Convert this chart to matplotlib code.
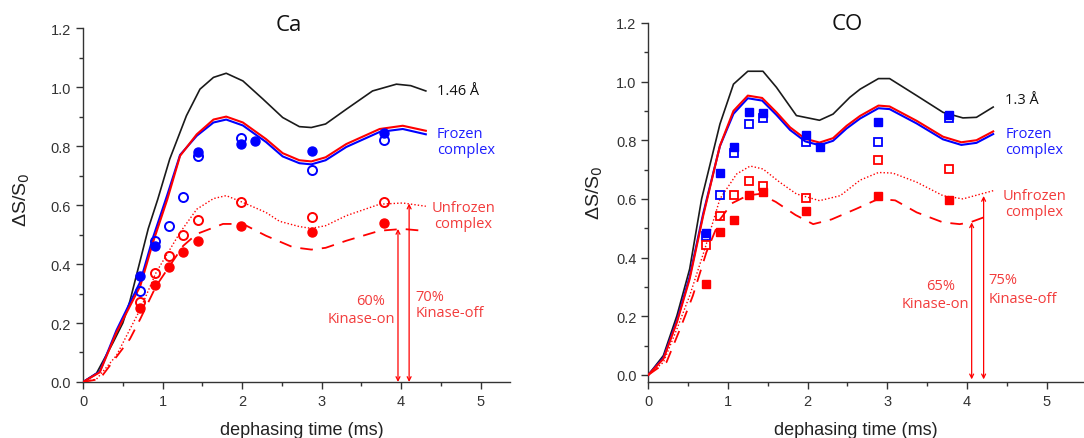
import matplotlib.pyplot as plt
from matplotlib.ticker import MultipleLocator

plt.rcParams['font.family'] = ['Liberation Sans', 'DejaVu Sans']

# ---------------- Ca panel ----------------
ca_t_black = [0, 0.17, 0.38, 0.50, 0.59, 0.82, 0.94, 1.09, 1.30, 1.47, 1.64, 1.80, 2.01,
              2.26, 2.51, 2.72, 2.87, 3.05, 3.31, 3.64, 3.94, 4.12, 4.31]
ca_v_black = [0, 0.03, 0.135, 0.20, 0.275, 0.52, 0.62, 0.756, 0.903, 0.993, 1.033, 1.047, 1.021,
              0.96, 0.897, 0.866, 0.863, 0.875, 0.925, 0.987, 1.01, 1.005, 0.987]

ca_t_frozen = [0, 0.21, 0.42, 0.72, 0.88, 1.06, 1.22, 1.43, 1.64, 1.80, 2.01, 2.30,
               2.51, 2.72, 2.87, 3.05, 3.31, 3.73, 4.02, 4.31]
ca_v_frozen_red = [0, 0.033, 0.168, 0.326, 0.474, 0.62, 0.767, 0.84, 0.89, 0.90, 0.88, 0.824,
                   0.776, 0.752, 0.748, 0.762, 0.807, 0.858, 0.869, 0.852]
ca_v_frozen_blue = [0, 0.035, 0.175, 0.34, 0.49, 0.635, 0.77, 0.835, 0.88, 0.89, 0.87, 0.814,
                    0.765, 0.742, 0.738, 0.752, 0.797, 0.848, 0.858, 0.840]

ca_t_dot = [0, 0.17, 0.42, 0.72, 0.92, 1.22, 1.43, 1.64, 1.80, 2.01, 2.30, 2.47,
            2.72, 2.87, 3.05, 3.31, 3.73, 4.02, 4.31]
ca_v_dot = [0, 0.01, 0.09, 0.247, 0.372, 0.507, 0.586, 0.622, 0.632, 0.609, 0.575, 0.545,
            0.527, 0.521, 0.530, 0.564, 0.603, 0.607, 0.596]

ca_t_dash = [0, 0.21, 0.59, 0.72, 0.92, 1.26, 1.43, 1.76, 2.01, 2.30, 2.64, 2.87,
             3.05, 3.31, 3.73, 4.02, 4.27]
ca_v_dash = [0, 0.01, 0.146, 0.214, 0.326, 0.462, 0.502, 0.536, 0.536, 0.496, 0.457, 0.449,
             0.455, 0.479, 0.513, 0.519, 0.513]

ca_t_blue_filled = [0.72, 0.90, 1.44, 1.98, 2.16, 2.88, 3.78]
ca_v_blue_filled = [0.36, 0.462, 0.78, 0.807, 0.818, 0.784, 0.844]
ca_t_pts = [0.72, 0.90, 1.08, 1.26, 1.44, 1.98, 2.88, 3.78]
ca_v_blue_open = [0.31, 0.479, 0.53, 0.628, 0.767, 0.829, 0.719, 0.82]
ca_v_red_open = [0.27, 0.37, 0.428, 0.499, 0.549, 0.609, 0.56, 0.609]
ca_v_red_filled = [0.25, 0.329, 0.389, 0.44, 0.479, 0.53, 0.507, 0.539]

# ---------------- CO panel ----------------
co_t_black = [0, 0.19, 0.36, 0.52, 0.67, 0.90, 1.07, 1.25, 1.44, 1.61, 1.86, 2.15,
              2.32, 2.53, 2.66, 2.89, 3.03, 3.37, 3.70, 3.95, 4.12, 4.33]
co_v_black = [0, 0.066, 0.202, 0.361, 0.60, 0.855, 0.991, 1.035, 1.035, 0.98, 0.884, 0.868,
              0.889, 0.946, 0.974, 1.01, 1.01, 0.952, 0.895, 0.876, 0.878, 0.913]

co_t_frozen = [0, 0.19, 0.36, 0.52, 0.69, 0.90, 1.07, 1.25, 1.43, 1.61, 1.78, 1.97,
               2.15, 2.32, 2.49, 2.66, 2.89, 3.03, 3.37, 3.70, 3.93, 4.12, 4.33]
co_v_frozen_red = [0, 0.055, 0.18, 0.327, 0.543, 0.781, 0.90, 0.952, 0.944, 0.895, 0.844, 0.805,
                   0.792, 0.807, 0.849, 0.883, 0.918, 0.915, 0.866, 0.812, 0.793, 0.800, 0.830]
co_v_frozen_blue = [0, 0.058, 0.185, 0.335, 0.55, 0.78, 0.89, 0.943, 0.935, 0.886, 0.835, 0.796,
                    0.783, 0.798, 0.840, 0.874, 0.909, 0.906, 0.857, 0.803, 0.784, 0.791, 0.821]

co_t_dot = [0, 0.19, 0.36, 0.52, 0.71, 0.90, 1.11, 1.28, 1.44, 1.65, 1.86, 2.15,
            2.41, 2.66, 2.89, 3.07, 3.37, 3.70, 3.95, 4.33]
co_v_dot = [0, 0.043, 0.157, 0.27, 0.429, 0.60, 0.685, 0.712, 0.702, 0.657, 0.617, 0.594,
            0.611, 0.664, 0.69, 0.688, 0.657, 0.611, 0.60, 0.628]

co_t_dash = [0, 0.23, 0.40, 0.56, 0.73, 0.90, 1.05, 1.25, 1.40, 1.60, 1.85, 2.07,
             2.30, 2.61, 2.89, 3.10, 3.37, 3.70, 3.91, 4.04, 4.29]
co_v_dash = [0, 0.044, 0.157, 0.27, 0.418, 0.53, 0.585, 0.612, 0.617, 0.59, 0.545, 0.514,
             0.53, 0.566, 0.60, 0.595, 0.554, 0.52, 0.514, 0.52, 0.545]

co_t_blue_filled = [0.72, 0.90, 1.08, 1.26, 1.44, 1.98, 2.16, 2.88, 3.78]
co_v_blue_filled = [0.483, 0.687, 0.776, 0.897, 0.893, 0.818, 0.776, 0.863, 0.887]
co_t_pts = [0.72, 0.90, 1.08, 1.26, 1.44, 1.98, 2.88, 3.78]
co_v_blue_open = [0.473, 0.613, 0.755, 0.855, 0.875, 0.793, 0.793, 0.875]
co_v_red_open = [0.443, 0.543, 0.613, 0.662, 0.643, 0.603, 0.733, 0.702]
co_v_red_filled = [0.31, 0.486, 0.529, 0.613, 0.625, 0.558, 0.609, 0.597]

# kinase arrows: (x, top of arrow)
ca_arrow_on = (3.96, 0.519)
ca_arrow_off = (4.10, 0.605)
co_arrow_on = (4.06, 0.52)
co_arrow_off = (4.21, 0.61)

RED = '#ff0000'
BLUE = '#0000ff'
TXT_RED = '#f23c3c'
TXT_BLUE = '#1e1eff'
BLACK = '#1a1a1a'
ANN_FONT = ['Open Sans', 'DejaVu Sans']

fig = plt.figure(figsize=(10.84, 4.39), dpi=100)
ax1 = fig.add_axes([0.0766, 0.1276, 0.394, 0.806])
ax2 = fig.add_axes([0.598, 0.1282, 0.402, 0.8175])


def style_axis(ax, xmax, ymin):
    ax.set_xlim(0, xmax)
    ax.set_ylim(ymin, 1.2)
    for s in ['top', 'right']:
        ax.spines[s].set_visible(False)
    for s in ['left', 'bottom']:
        ax.spines[s].set_color('#333333')
        ax.spines[s].set_linewidth(1.0)
    ax.xaxis.set_major_locator(MultipleLocator(1))
    ax.xaxis.set_minor_locator(MultipleLocator(0.5))
    ax.yaxis.set_major_locator(MultipleLocator(0.2))
    ax.yaxis.set_minor_locator(MultipleLocator(0.1))
    ax.set_yticks([0, 0.2, 0.4, 0.6, 0.8, 1.0, 1.2])
    ax.set_yticklabels(['0.0', '0.2', '0.4', '0.6', '0.8', '1.0', '1.2'])
    ax.tick_params(which='major', direction='out', length=5, width=1.0,
                   labelsize=10.5, colors='#333333')
    ax.tick_params(which='minor', direction='out', length=3, width=1.0, colors='#333333')
    ax.tick_params(axis='x', pad=4)


def draw_curves(ax, t_black, v_black, t_fr, v_red, v_blue, t_dot, v_dot, t_dash, v_dash):
    ax.plot(t_black, v_black, color=BLACK, lw=1.2, zorder=3)
    ax.plot(t_fr, v_blue, color=BLUE, lw=1.5, zorder=3)
    ax.plot(t_fr, v_red, color=RED, lw=1.5, zorder=4)
    ax.plot(t_dot, v_dot, color=RED, lw=1.0, linestyle=(0, (1, 1.5)), zorder=3)
    ax.plot(t_dash, v_dash, color=RED, lw=1.3, linestyle=(0, (7, 5)), zorder=3)


def draw_arrows(ax, on, off, bottom):
    for x, top in (on, off):
        ax.annotate('', xy=(x, top), xytext=(x, bottom),
                    arrowprops=dict(arrowstyle='<->', color=RED, lw=0.9,
                                    mutation_scale=7, shrinkA=0, shrinkB=0))


# ---- Ca ----
style_axis(ax1, 5.37, 0.0)
draw_curves(ax1, ca_t_black, ca_v_black, ca_t_frozen, ca_v_frozen_red, ca_v_frozen_blue,
            ca_t_dot, ca_v_dot, ca_t_dash, ca_v_dash)
ax1.plot(ca_t_blue_filled, ca_v_blue_filled, 'o', color=BLUE, ms=6.5, zorder=6)
ax1.plot(ca_t_pts, ca_v_blue_open, 'o', mfc='none', mec=BLUE, mew=1.4, ms=6.5, zorder=6)
ax1.plot(ca_t_pts, ca_v_red_open, 'o', mfc='none', mec=RED, mew=1.4, ms=6.5, zorder=6)
ax1.plot(ca_t_pts, ca_v_red_filled, 'o', color=RED, ms=6.5, zorder=6)
draw_arrows(ax1, ca_arrow_on, ca_arrow_off, 0.0)

ax1.text(0.482, 1.011, 'Ca', transform=ax1.transAxes, ha='center', va='center',
         fontsize=16, family=ANN_FONT, color='#111111')
ax1.text(4.45, 0.987, '1.46 Å', ha='left', va='center', fontsize=10.5,
         family=ANN_FONT, color='#111111')
ax1.text(4.45, 0.815, 'Frozen\ncomplex', ha='left', va='center', fontsize=10.5,
         family=ANN_FONT, color=TXT_BLUE, linespacing=1.1)
ax1.text(4.78, 0.565, 'Unfrozen\ncomplex', ha='center', va='center', fontsize=10.5,
         family=ANN_FONT, color=TXT_RED, linespacing=1.1)
ax1.text(3.62, 0.276, '60%', ha='center', va='center', fontsize=10.5,
         family=ANN_FONT, color=TXT_RED)
ax1.text(3.50, 0.216, 'Kinase-on', ha='center', va='center', fontsize=10.5,
         family=ANN_FONT, color=TXT_RED)
ax1.text(4.18, 0.29, '70%', ha='left', va='center', fontsize=10.5,
         family=ANN_FONT, color=TXT_RED)
ax1.text(4.18, 0.236, 'Kinase-off', ha='left', va='center', fontsize=10.5,
         family=ANN_FONT, color=TXT_RED)
ax1.text(-0.143, 0.517, 'ΔS/S$_0$', transform=ax1.transAxes, rotation=90,
         ha='center', va='center', fontsize=14, color='#222222')
ax1.text(0.513, -0.133, 'dephasing time (ms)', transform=ax1.transAxes,
         ha='center', va='center', fontsize=13, color='#222222')

# ---- CO ----
style_axis(ax2, 5.47, -0.023)
draw_curves(ax2, co_t_black, co_v_black, co_t_frozen, co_v_frozen_red, co_v_frozen_blue,
            co_t_dot, co_v_dot, co_t_dash, co_v_dash)
ax2.plot(co_t_blue_filled, co_v_blue_filled, 's', color=BLUE, ms=5.8, zorder=6)
ax2.plot(co_t_pts, co_v_blue_open, 's', mfc='none', mec=BLUE, mew=1.3, ms=5.8, zorder=6)
ax2.plot(co_t_pts, co_v_red_open, 's', mfc='none', mec=RED, mew=1.3, ms=5.8, zorder=6)
ax2.plot(co_t_pts, co_v_red_filled, 's', color=RED, ms=5.8, zorder=6)
draw_arrows(ax2, co_arrow_on, co_arrow_off, -0.015)

ax2.text(0.456, 0.997, 'CO', transform=ax2.transAxes, ha='center', va='center',
         fontsize=16, family=ANN_FONT, color='#111111')
ax2.text(4.48, 0.94, '1.3 Å', ha='left', va='center', fontsize=10.5,
         family=ANN_FONT, color='#111111')
ax2.text(4.48, 0.795, 'Frozen\ncomplex', ha='left', va='center', fontsize=10.5,
         family=ANN_FONT, color=TXT_BLUE, linespacing=1.1)
ax2.text(4.85, 0.585, 'Unfrozen\ncomplex', ha='center', va='center', fontsize=10.5,
         family=ANN_FONT, color=TXT_RED, linespacing=1.1)
ax2.text(3.67, 0.304, '65%', ha='center', va='center', fontsize=10.5,
         family=ANN_FONT, color=TXT_RED)
ax2.text(3.60, 0.242, 'Kinase-on', ha='center', va='center', fontsize=10.5,
         family=ANN_FONT, color=TXT_RED)
ax2.text(4.27, 0.327, '75%', ha='left', va='center', fontsize=10.5,
         family=ANN_FONT, color=TXT_RED)
ax2.text(4.27, 0.259, 'Kinase-off', ha='left', va='center', fontsize=10.5,
         family=ANN_FONT, color=TXT_RED)
ax2.text(-0.122, 0.528, 'ΔS/S$_0$', transform=ax2.transAxes, rotation=90,
         ha='center', va='center', fontsize=14, color='#222222')
ax2.text(0.477, -0.133, 'dephasing time (ms)', transform=ax2.transAxes,
         ha='center', va='center', fontsize=13, color='#222222')

fig.savefig('out.png', dpi=100)
plt.close(fig)
